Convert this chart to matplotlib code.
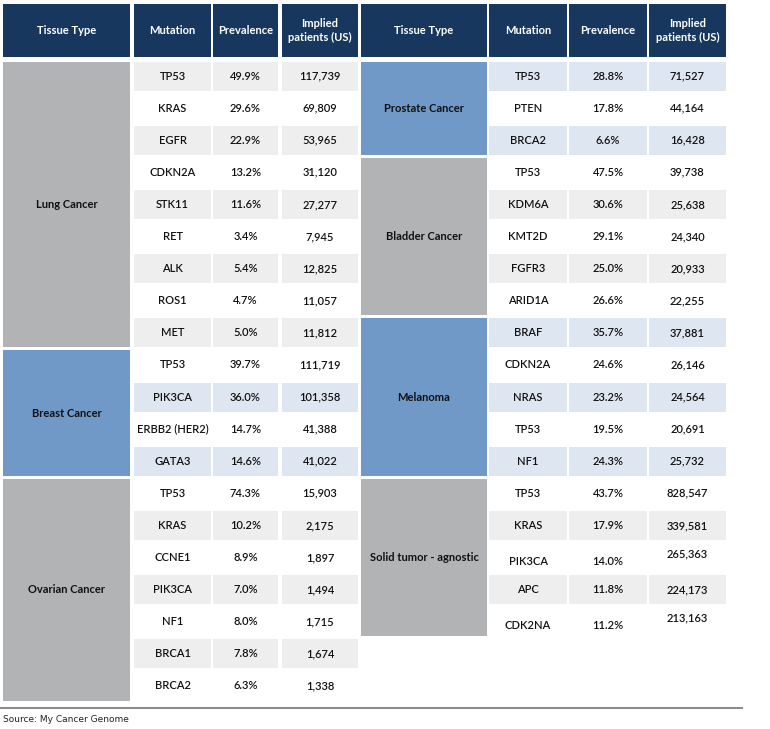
import matplotlib.pyplot as plt
from matplotlib.patches import Rectangle

# ---- data ----
headers = ["Tissue Type", "Mutation", "Prevalence", "Implied\npatients (US)"]

left_tissues = ["Lung Cancer", "Breast Cancer", "Ovarian Cancer"]
left_colors = ["gray", "blue", "gray"]
left_mutations = [
    ["TP53", "KRAS", "EGFR", "CDKN2A", "STK11", "RET", "ALK", "ROS1", "MET"],
    ["TP53", "PIK3CA", "ERBB2 (HER2)", "GATA3"],
    ["TP53", "KRAS", "CCNE1", "PIK3CA", "NF1", "BRCA1", "BRCA2"],
]
left_prevalence = [
    ["49.9%", "29.6%", "22.9%", "13.2%", "11.6%", "3.4%", "5.4%", "4.7%", "5.0%"],
    ["39.7%", "36.0%", "14.7%", "14.6%"],
    ["74.3%", "10.2%", "8.9%", "7.0%", "8.0%", "7.8%", "6.3%"],
]
left_patients = [
    ["117,739", "69,809", "53,965", "31,120", "27,277", "7,945", "12,825", "11,057", "11,812"],
    ["111,719", "101,358", "41,388", "41,022"],
    ["15,903", "2,175", "1,897", "1,494", "1,715", "1,674", "1,338"],
]

right_tissues = ["Prostate Cancer", "Bladder Cancer", "Melanoma", "Solid tumor - agnostic"]
right_colors = ["blue", "gray", "blue", "gray"]
right_mutations = [
    ["TP53", "PTEN", "BRCA2"],
    ["TP53", "KDM6A", "KMT2D", "FGFR3", "ARID1A"],
    ["BRAF", "CDKN2A", "NRAS", "TP53", "NF1"],
    ["TP53", "KRAS", "PIK3CA", "APC", "CDK2NA"],
]
right_prevalence = [
    ["28.8%", "17.8%", "6.6%"],
    ["47.5%", "30.6%", "29.1%", "25.0%", "26.6%"],
    ["35.7%", "24.6%", "23.2%", "19.5%", "24.3%"],
    ["43.7%", "17.9%", "14.0%", "11.8%", "11.2%"],
]
right_patients = [
    ["71,527", "44,164", "16,428"],
    ["39,738", "25,638", "24,340", "20,933", "22,255"],
    ["37,881", "26,146", "24,564", "20,691", "25,732"],
    ["828,547", "339,581", "265,363", "224,173", "213,163"],
]
# rows in the solid tumor block where the text sits off-centre in the source
right_shift = [
    [0, 0, 0],
    [0, 0, 0, 0, 0],
    [0, 0, 0, 0, 0],
    [0, 0, 1, 0, 1],
]

source = "Source: My Cancer Genome"

# ---- style ----
navy = "#17375e"
block_col = {"gray": "#b2b3b5", "blue": "#7099c8"}
band_col = {"gray": "#eeeeee", "blue": "#dee6f2"}
txt = "#111111"
font = ["Lato", "DejaVu Sans"]

W, H = 770, 729
fig = plt.figure(figsize=(W / 100, H / 100), dpi=100)
ax = fig.add_axes([0, 0, 1, 1])
ax.set_xlim(0, W)
ax.set_ylim(H, 0)
ax.axis("off")

top, head_h = 4, 53
body_top = 60
row_h = 32.1


def draw_table(cols, tissues, colors, muts, prevs, pats, shifts=None):
    # header
    for (x0, x1), h in zip(cols, headers):
        ax.add_patch(Rectangle((x0, top), x1 - x0, head_h, color=navy, lw=0))
        ax.text((x0 + x1) / 2, top + head_h / 2, h, color="white", ha="center",
                va="center", fontsize=8, fontweight="bold", family=font,
                linespacing=1.3)
    r = 0
    for g, tissue in enumerate(tissues):
        n = len(muts[g])
        y0 = body_top + r * row_h
        tx0, tx1 = cols[0]
        ax.add_patch(Rectangle((tx0, y0 + 1.5), tx1 - tx0, n * row_h - 3,
                               color=block_col[colors[g]], lw=0))
        ax.text((tx0 + tx1) / 2, y0 + n * row_h / 2, tissue, ha="center",
                va="center", fontsize=8, fontweight="bold", color=txt, family=font)
        for i in range(n):
            yr = body_top + r * row_h
            # every other row of the whole column gets a light band
            if r % 2 == 0:
                for x0, x1 in cols[1:]:
                    ax.add_patch(Rectangle((x0, yr + 1.5), x1 - x0, row_h - 3,
                                           color=band_col[colors[g]], lw=0))
            s = shifts[g][i] if shifts else 0
            vals = [muts[g][i], prevs[g][i], pats[g][i]]
            offs = [4 * s, 4 * s, -4 * s]
            for (x0, x1), v, o in zip(cols[1:], vals, offs):
                ax.text((x0 + x1) / 2, yr + row_h / 2 + o, v, ha="center",
                        va="center", fontsize=8, fontweight="semibold",
                        color=txt, family=font)
            r += 1


left_cols = [(3, 130), (134, 211), (213, 278), (282, 358)]
right_cols = [(361, 487), (489, 567), (569, 647), (649, 726)]

draw_table(left_cols, left_tissues, left_colors, left_mutations,
           left_prevalence, left_patients)
draw_table(right_cols, right_tissues, right_colors, right_mutations,
           right_prevalence, right_patients, right_shift)

ax.plot([0, 742], [708, 708], color="#8c8c8c", lw=1.5)
ax.text(3, 719, source, ha="left", va="center", fontsize=6.5, color="#222222",
        family=["Liberation Sans Narrow", "DejaVu Sans"])

fig.savefig("out.png", dpi=100)
